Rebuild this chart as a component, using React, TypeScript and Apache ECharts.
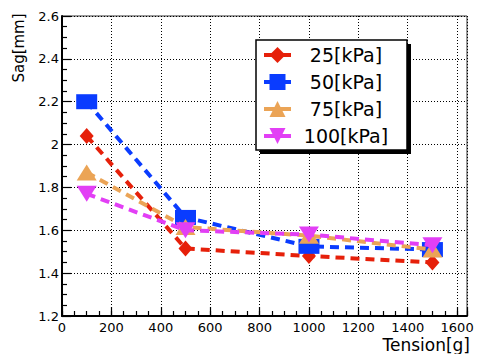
import React, { useEffect, useRef } from 'react';
import * as echarts from 'echarts';

const tension = [100, 500, 1000, 1500];
const sag25 = [2.04, 1.515, 1.48, 1.45];
const sag50 = [2.2, 1.66, 1.525, 1.51];
const sag75 = [1.87, 1.615, 1.575, 1.51];
const sag100 = [1.77, 1.6, 1.58, 1.53];
const seriesNames = ['25[kPa]', '50[kPa]', '75[kPa]', '100[kPa]'];
const seriesColors = ['#e6200a', '#0a3cff', '#eba456', '#e23ff5'];
const xTitle = 'Tension[g]';
const yTitle = 'Sag[mm]';

const FONT = 'DejaVu Sans';

export default function App() {
  const ref = useRef<HTMLDivElement>(null);
  useEffect(() => {
    if (!ref.current) return;
    const chart = echarts.init(ref.current, undefined, { renderer: 'svg' });
    const values = [sag25, sag50, sag75, sag100];
    const symbols = ['diamond', 'rect', 'triangle', 'triangle'];
    const rotations = [0, 0, 0, 180];
    const sizes: any[] = [[14, 16], [21, 15], [20, 16], [20, 16]];
    const series = values.map((vals, i) => ({
      name: seriesNames[i],
      type: 'line',
      xAxisIndex: 0,
      yAxisIndex: 0,
      data: tension.map((t, j) => [t, vals[j]]),
      symbol: symbols[i],
      symbolRotate: rotations[i],
      symbolSize: sizes[i],
      showAllSymbol: true,
      itemStyle: { color: seriesColors[i], opacity: 1 },
      lineStyle: { color: seriesColors[i], width: 4, type: [9, 6], cap: 'butt' },
      emphasis: { disabled: true },
      z: 2 + i,
    }));
    chart.setOption({
      animation: false,
      backgroundColor: '#fff',
      grid: {
        left: 62,
        right: 12,
        top: 16,
        bottom: 38,
        show: true,
        borderColor: '#333',
        borderWidth: 1,
        backgroundColor: '#fff',
      },
      xAxis: [
        {
          type: 'value',
          min: 0,
          max: 1640,
          interval: 200,
          position: 'bottom',
          axisLine: { show: true, onZero: false, lineStyle: { color: '#000', width: 2 } },
          axisTick: { show: true, inside: true, length: 9, lineStyle: { color: '#000', width: 1.2 } },
          axisLabel: {
            show: true,
            margin: 5,
            color: '#000',
            fontFamily: FONT,
            fontSize: 13,
            formatter: (v: number) => (v % 200 === 0 ? String(v) : ''),
          },
          splitLine: { show: true, lineStyle: { color: '#000', width: 1, type: [1, 2] } },
        },
        {
          type: 'value',
          min: 0,
          max: 1640,
          interval: 50,
          position: 'bottom',
          axisLine: { show: false },
          axisTick: { show: true, inside: true, length: 5, lineStyle: { color: '#000', width: 1.2 } },
          axisLabel: { show: false },
          splitLine: { show: false },
        },
      ],
      yAxis: {
        type: 'value',
        min: 1.2,
        max: 2.6,
        interval: 0.2,
        axisLine: { show: true, onZero: false, lineStyle: { color: '#000', width: 2 } },
        axisTick: { show: true, inside: true, length: 9, lineStyle: { color: '#000', width: 1.2 } },
        minorTick: { show: true, splitNumber: 4, length: 5, lineStyle: { color: '#000', width: 1.2 } },
        axisLabel: {
          show: true,
          margin: 3,
          color: '#000',
          fontFamily: FONT,
          fontSize: 13,
          formatter: (v: number) => String(Math.round(v * 10) / 10),
        },
        splitLine: { show: true, lineStyle: { color: '#000', width: 1, type: [1, 2] } },
      },
      legend: {
        show: true,
        orient: 'vertical',
        left: 262,
        top: 45,
        padding: 0,
        itemWidth: 27,
        itemHeight: 20,
        itemGap: 7,
        data: seriesNames,
        selectedMode: false,
        formatter: (n: string) => `{t|${n}}`,
        textStyle: {
          rich: {
            t: {
              width: 100,
              align: 'center',
              fontSize: 19,
              fontFamily: FONT,
              color: '#000',
              height: 20,
              lineHeight: 20,
            },
          },
        },
        lineStyle: { type: 'solid', width: 4 },
        z: 20,
      },
      graphic: [
        { type: 'rect', z: 10, shape: { x: 260, y: 44, width: 151, height: 110 }, style: { fill: '#000' } },
        {
          type: 'rect',
          z: 11,
          shape: { x: 256, y: 40, width: 151, height: 110 },
          style: { fill: '#fff', stroke: '#000', lineWidth: 1.5 },
        },
        {
          type: 'text',
          z: 12,
          x: 19,
          y: 48,
          rotation: Math.PI / 2,
          style: {
            text: yTitle,
            fontFamily: FONT,
            fontSize: 15,
            fill: '#000',
            align: 'center',
            verticalAlign: 'middle',
          },
        },
        {
          type: 'text',
          z: 12,
          x: 470,
          y: 345,
          style: {
            text: xTitle,
            fontFamily: FONT,
            fontSize: 17,
            fill: '#000',
            align: 'right',
            verticalAlign: 'middle',
          },
        },
      ],
      series,
    });
    return () => chart.dispose();
  }, []);
  return (
    <div
      ref={ref}
      style={{ position: 'absolute', left: 0, top: 0, width: 479, height: 354 }}
    />
  );
}
